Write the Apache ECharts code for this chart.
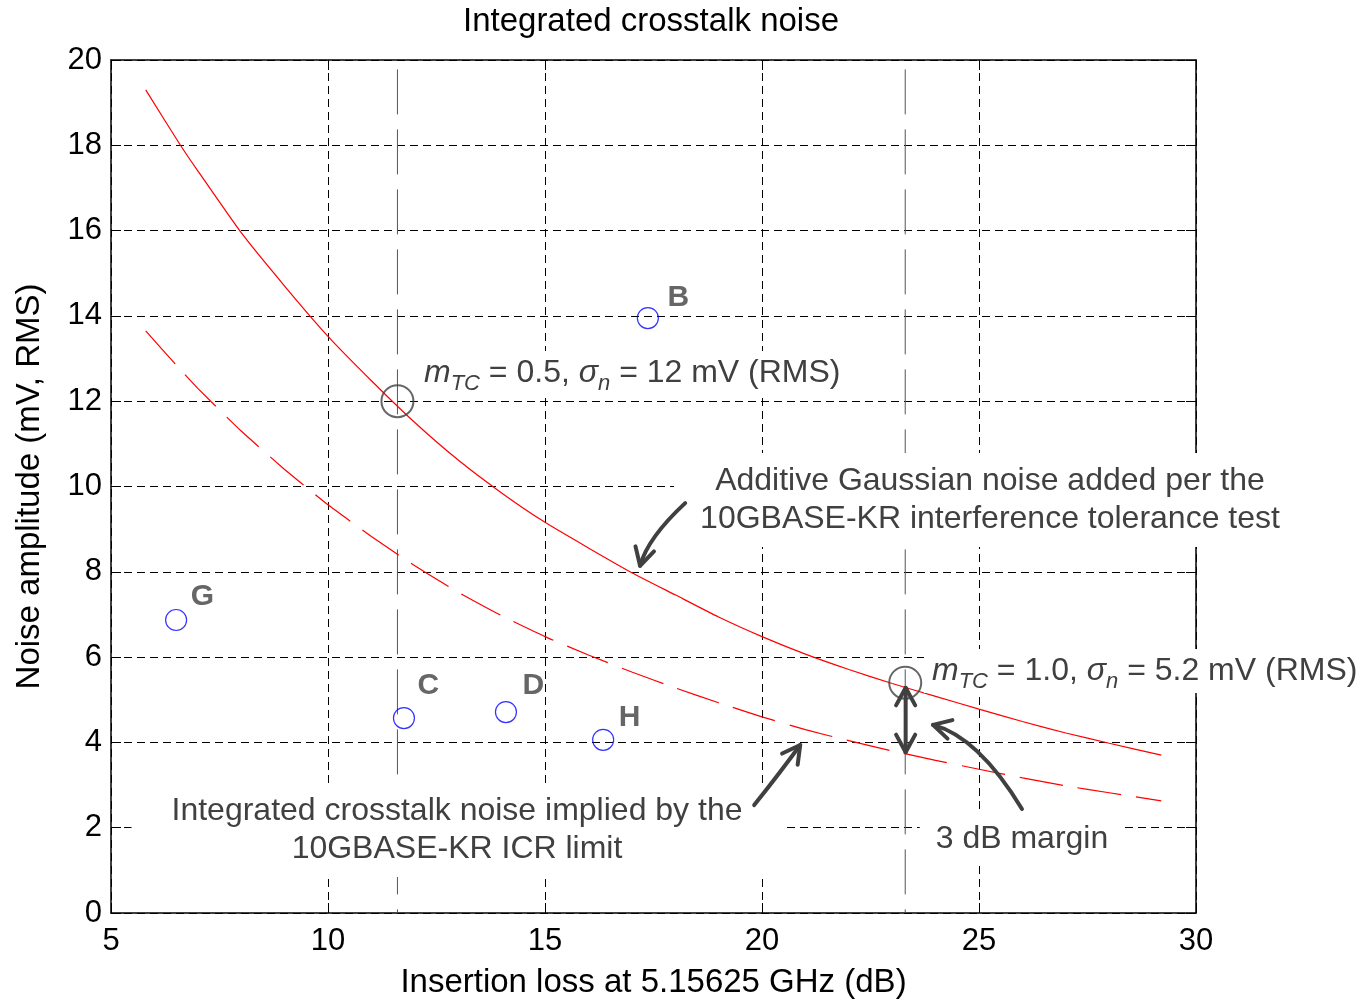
<!DOCTYPE html>
<html>
<head>
<meta charset="utf-8">
<script src="https://cdn.jsdelivr.net/npm/echarts@6/dist/echarts.min.js"></script>
<style>
  html, body { margin: 0; padding: 0; background: #fff; }
  #chart { width: 1363px; height: 1000px; }
</style>
</head>
<body>
<div id="chart"></div>
<script>
const FONT = '"Liberation Sans", Arial, sans-serif'
const GRAY = '#404040'

// interference tolerance curve (solid) and ICR-implied curve (dashed)
const solidX = [5.8, 6.6, 7.0, 8.0, 9.0, 10.0, 11.0, 12.0, 13.0, 14.0, 15.0, 16.0, 17.0, 18.0, 19.0, 20.0, 21.0, 22.0, 23.0, 24.0, 25.0, 26.0, 27.0, 28.0, 29.2]
const solidY = [19.3, 18.0, 17.4, 15.95, 14.7, 13.52, 12.48, 11.5, 10.62, 9.85, 9.16, 8.56, 7.98, 7.46, 6.94, 6.48, 6.07, 5.71, 5.38, 5.08, 4.78, 4.49, 4.22, 3.98, 3.7]
const dashedX = [5.8, 6.5, 7.0, 8.0, 9.0, 10.0, 11.0, 12.0, 13.0, 14.0, 15.0, 16.0, 17.0, 18.0, 19.0, 20.0, 21.0, 22.0, 23.0, 24.0, 25.0, 26.0, 27.0, 28.0, 29.2]
const dashedY = [13.65, 12.85, 12.3, 11.3, 10.4, 9.57, 8.83, 8.14, 7.52, 6.97, 6.48, 6.05, 5.65, 5.28, 4.93, 4.6, 4.3, 4.04, 3.8, 3.58, 3.37, 3.17, 2.98, 2.82, 2.63]

// measured channels
const channelNames = ['B', 'G', 'C', 'D', 'H']
const channelX = [17.37, 6.5, 11.75, 14.1, 16.34]
const channelY = [13.95, 6.87, 4.57, 4.71, 4.06]
const labelOffsets = [[31, -20], [27, -23], [25, -32], [28, -26], [27, -22]]

// operating points (black circles) and the vertical markers through them
const refX = [11.6, 23.3]
const refY = [12.0, 5.4]
const markerTop = 19.78

const chart = echarts.init(document.getElementById('chart'))

function valueAxis(min, max, step, pos, main) {
  return {
    type: 'value',
    position: pos,
    min: min,
    max: max,
    interval: step,
    axisLine: { show: true, onZero: false, lineStyle: { color: '#000', width: 1.5 } },
    axisTick: { show: true, inside: true, length: 10, lineStyle: { color: '#000', width: 1 } },
    axisLabel: { show: main, color: '#000', fontSize: 31, fontFamily: FONT, margin: 13 },
    splitLine: { show: main, lineStyle: { color: '#000', width: 1, type: [8, 5] } }
  }
}

const xMain = valueAxis(5, 30, 5, 'bottom', true)
xMain.name = 'Insertion loss at 5.15625 GHz (dB)'
xMain.nameLocation = 'middle'
xMain.nameGap = 53
xMain.nameTextStyle = { color: '#000', fontSize: 33, fontFamily: FONT }

const yMain = valueAxis(0, 20, 2, 'left', true)
yMain.axisLabel.margin = 9
yMain.name = 'Noise amplitude (mV, RMS)'
yMain.nameLocation = 'middle'
yMain.nameGap = 65
yMain.nameTextStyle = { color: '#000', fontSize: 33, fontFamily: FONT }

const series = [
  {
    type: 'line',
    data: solidX.map((x, i) => [x, solidY[i]]),
    showSymbol: false,
    smooth: 0.15,
    lineStyle: { color: '#ff0000', width: 1.2 },
    z: 5
  },
  {
    type: 'line',
    data: dashedX.map((x, i) => [x, dashedY[i]]),
    showSymbol: false,
    smooth: 0.15,
    lineStyle: { color: '#ff0000', width: 1.2, type: [44, 15] },
    z: 5
  }
]

refX.forEach(x => {
  series.push({
    type: 'line',
    data: [[x, markerTop], [x, 0]],
    showSymbol: false,
    lineStyle: { color: '#555', width: 1, type: [45, 15] },
    z: 3
  })
})

series.push({
  type: 'scatter',
  symbol: 'circle',
  symbolSize: 21,
  itemStyle: { color: 'rgba(0,0,0,0)', borderColor: '#0000ff', borderWidth: 1.2 },
  data: channelNames.map((n, i) => ({
    name: n,
    value: [channelX[i], channelY[i]],
    label: { position: [10.5 + labelOffsets[i][0], 10.5 + labelOffsets[i][1]] }
  })),
  label: {
    show: true,
    formatter: p => p.name,
    align: 'center',
    verticalAlign: 'middle',
    color: GRAY,
    fontSize: 30,
    fontWeight: 'bold',
    fontFamily: FONT
  },
  z: 6
})

series.push({
  type: 'scatter',
  symbol: 'circle',
  symbolSize: 32,
  itemStyle: { color: 'rgba(0,0,0,0)', borderColor: GRAY, borderWidth: 2 },
  data: refX.map((x, i) => [x, refY[i]]),
  z: 7
})

chart.setOption({
  animation: false,
  backgroundColor: '#fff',
  grid: { left: 111, top: 60, width: 1085, height: 853, outerBoundsMode: 'none' },
  xAxis: [xMain, valueAxis(5, 30, 5, 'top', false)],
  yAxis: [yMain, valueAxis(0, 20, 2, 'right', false)],
  series: series
})

// ---- annotations ----
const toPx = p => chart.convertToPixel({ gridIndex: 0 }, p)

// arrows: start, control, end in data coords
const arrows = [
  { from: [18.23, 9.61], ctrl: [17.37, 8.80], to: [17.19, 8.14], both: false },
  { from: [19.82, 2.53], ctrl: [20.46, 3.35], to: [20.88, 3.94], both: false },
  { from: [23.31, 3.77], ctrl: [23.31, 4.5], to: [23.31, 5.28], both: true },
  { from: [25.99, 2.44], ctrl: [24.98, 4.13], to: [23.94, 4.41], both: false }
]

function head(tip, from, len, ang) {
  const dx = tip[0] - from[0]
  const dy = tip[1] - from[1]
  const a = Math.atan2(dy, dx)
  const p1 = [tip[0] - len * Math.cos(a - ang), tip[1] - len * Math.sin(a - ang)]
  const p2 = [tip[0] - len * Math.cos(a + ang), tip[1] - len * Math.sin(a + ang)]
  return {
    type: 'polyline', z: 110,
    shape: { points: [p1, tip, p2] },
    style: { stroke: GRAY, lineWidth: 4, fill: null, lineCap: 'round', lineJoin: 'round' }
  }
}

const graphics = []
arrows.forEach(a => {
  const p0 = toPx(a.from)
  const c = toPx(a.ctrl)
  const p1 = toPx(a.to)
  graphics.push({
    type: 'bezierCurve', z: 110,
    shape: { x1: p0[0], y1: p0[1], cpx1: c[0], cpy1: c[1], x2: p1[0], y2: p1[1] },
    style: { stroke: GRAY, lineWidth: 4, fill: null, lineCap: 'round' }
  })
  graphics.push(head(p1, c, 20, 0.5))
  if (a.both) graphics.push(head(p0, c, 20, 0.5))
})

function boxText(x, y, text, align, pad) {
  return {
    type: 'text', x: x, y: y, z: 100,
    style: {
      text: text,
      font: '32px ' + FONT,
      fill: GRAY,
      align: align,
      verticalAlign: 'middle',
      lineHeight: 38,
      backgroundColor: '#fff',
      padding: pad
    }
  }
}

const richStyles = {
  i: { font: 'italic 32px ' + FONT, fill: GRAY },
  n: { font: '32px ' + FONT, fill: GRAY },
  sub: { font: 'italic 22px ' + FONT, fill: GRAY, padding: [22, 0, 0, 0] }
}
function mtcText(x, y, m, s) {
  return {
    type: 'text', x: x, y: y, z: 100,
    style: {
      text: '{i|m}{sub|TC}{n| = ' + m + ', }{i|σ}{sub|n}{n| = ' + s + ' mV (RMS)}',
      rich: richStyles,
      font: '32px ' + FONT,
      fill: GRAY,
      align: 'left',
      verticalAlign: 'middle',
      backgroundColor: '#fff',
      padding: [0, 8, 0, 8]
    }
  }
}

graphics.unshift(
  {
    type: 'text', x: 651, y: 22, z: 100,
    style: { text: 'Integrated crosstalk noise', font: '33px ' + FONT, fill: '#000', align: 'center', verticalAlign: 'middle' }
  },
  boxText(990, 500, 'Additive Gaussian noise added per the\n10GBASE-KR interference tolerance test', 'center', [9, 26]),
  boxText(457, 830, 'Integrated crosstalk noise implied by the\n10GBASE-KR ICR limit', 'center', [9, 40]),
  boxText(1022, 839, '3 dB margin', 'center', [8, 16]),
  mtcText(416, 373, '0.5', '12'),
  mtcText(924, 671, '1.0', '5.2')
)

chart.setOption({ graphic: graphics })
</script>
</body>
</html>
